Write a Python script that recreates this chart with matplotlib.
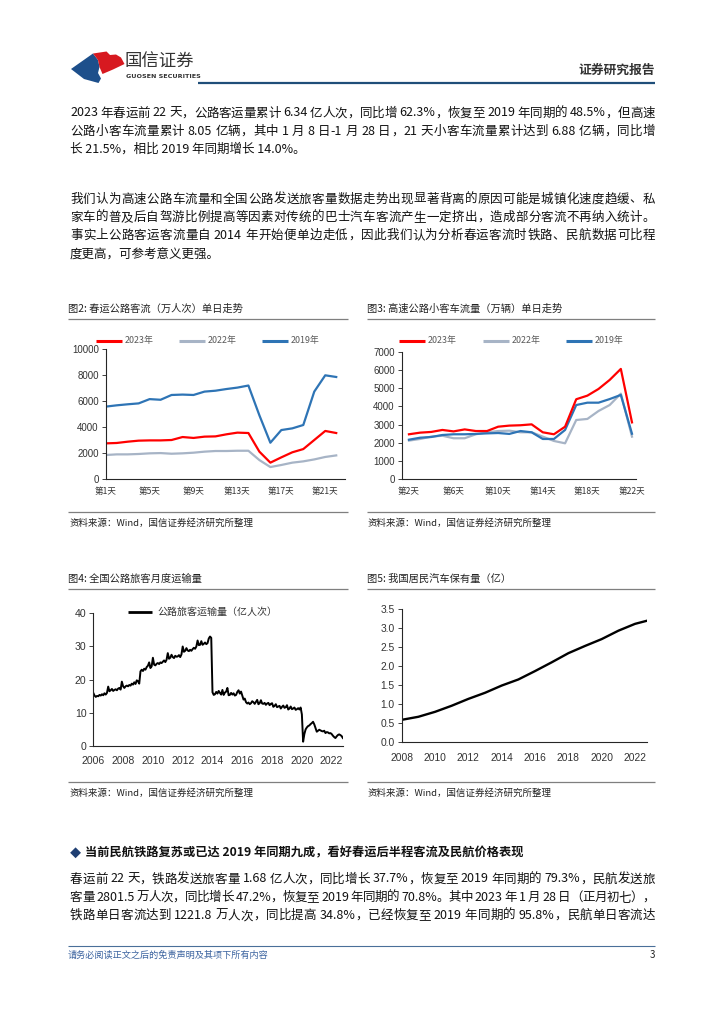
import re
import numpy as np
import matplotlib
matplotlib.use('Agg')
import matplotlib.pyplot as plt
from matplotlib.patches import Polygon

plt.rcParams['font.family'] = ['Noto Sans CJK SC', 'DejaVu Sans']
plt.rcParams['axes.unicode_minus'] = False

W, H = 724, 1024

# -- 图2: 春运公路客流（万人次）单日走势
fig2_days = list(range(1, 23))
fig2_2023 = [2730, 2760, 2860, 2940, 2960, 2960, 2990, 3220, 3150, 3250, 3270, 3430,
             3560, 3530, 2090, 1240, 1650, 2040, 2290, 2990, 3690, 3530]
fig2_2022 = [1830, 1880, 1880, 1910, 1960, 1980, 1930, 1960, 2010, 2090, 2140, 2140,
             2160, 2160, 1440, 900, 1060, 1240, 1340, 1490, 1680, 1800]
fig2_2019 = [5570, 5670, 5750, 5820, 6150, 6100, 6470, 6500, 6470, 6730, 6800, 6930,
             7040, 7200, 4900, 2780, 3760, 3890, 4150, 6730, 7990, 7860]
fig2_ticks = [1, 5, 9, 13, 17, 21]
fig2_labels = ['第1天', '第5天', '第9天', '第13天', '第17天', '第21天']

# -- 图3: 高速公路小客车流量（万辆）单日走势
fig3_days = list(range(2, 23))
fig3_2023 = [2460, 2550, 2590, 2700, 2620, 2730, 2640, 2640, 2880, 2940, 2960, 3010,
             2570, 2460, 2880, 4400, 4600, 4970, 5470, 6080, 3120]
fig3_2022 = [2110, 2200, 2330, 2380, 2240, 2240, 2460, 2570, 2640, 2660, 2570, 2570,
             2330, 2090, 1960, 3250, 3310, 3750, 4080, 4710, 2330]
fig3_2019 = [2160, 2270, 2310, 2420, 2460, 2460, 2480, 2510, 2530, 2480, 2640, 2570,
             2200, 2200, 2700, 4080, 4210, 4210, 4410, 4640, 2490]
fig3_ticks = [2, 6, 10, 14, 18, 22]
fig3_labels = ['第2天', '第6天', '第10天', '第14天', '第18天', '第22天']

# -- 图4: 全国公路旅客月度运输量（亿人次），2006-01 起按月
y2006 = [16.0, 15.2, 14.8, 15.1, 15.0, 15.4, 15.2, 15.6, 15.3, 15.9, 15.5, 16.0]
y2007 = [17.9, 16.5, 16.8, 17.2, 16.6, 16.9, 17.1, 16.8, 17.3, 17.5, 17.0, 19.4]
y2008 = [18.0, 17.5, 18.0, 18.2, 18.0, 18.4, 18.2, 18.8, 18.5, 19.2, 18.7, 19.8]
y2009 = [19.5, 18.8, 22.5, 23.0, 22.6, 23.3, 23.0, 23.8, 24.2, 25.2, 23.5, 24.0]
y2010 = [26.6, 24.5, 24.3, 24.8, 25.0, 24.7, 25.2, 25.0, 25.4, 25.8, 25.3, 26.0]
y2011 = [28.0, 26.3, 26.6, 27.5, 26.8, 26.5, 27.2, 26.9, 27.0, 27.4, 26.8, 27.6]
y2012 = [30.0, 28.4, 28.7, 29.5, 28.8, 28.6, 29.0, 28.7, 29.2, 29.6, 29.3, 30.0]
y2013 = [31.8, 30.4, 30.5, 31.6, 30.5, 30.8, 31.2, 30.7, 31.0, 32.4, 33.0, 32.6]
y2014 = [16.2, 15.4, 15.6, 16.3, 15.8, 16.6, 16.0, 15.5, 16.9, 15.4, 16.1, 16.4]
y2015 = [17.5, 15.3, 15.4, 16.0, 15.5, 15.9, 15.2, 15.4, 16.3, 16.8, 15.8, 16.4]
y2016 = [15.2, 14.0, 14.3, 13.2, 12.8, 13.1, 12.6, 12.9, 13.5, 13.2, 12.7, 13.3]
y2017 = [13.9, 12.6, 12.9, 13.8, 12.8, 12.7, 13.0, 12.4, 12.8, 13.0, 12.3, 12.7]
y2018 = [12.9, 11.8, 12.1, 12.6, 11.7, 11.9, 12.1, 11.3, 11.8, 12.2, 11.5, 11.7]
y2019 = [12.3, 11.0, 11.3, 11.9, 11.1, 11.3, 11.6, 10.9, 11.1, 11.4, 11.0, 11.6]
y2020 = [9.5, 1.3, 3.6, 5.0, 5.6, 6.0, 6.2, 6.6, 6.9, 7.3, 6.5, 5.4]
y2021 = [4.3, 4.6, 4.9, 4.7, 4.5, 4.4, 4.6, 3.9, 4.2, 4.1, 3.8, 3.9]
y2022 = [3.6, 3.1, 2.7, 2.4, 2.9, 3.3, 3.5, 3.3, 3.0, 2.4]
fig4_values = (y2006 + y2007 + y2008 + y2009 + y2010 + y2011 + y2012 + y2013 + y2014
               + y2015 + y2016 + y2017 + y2018 + y2019 + y2020 + y2021 + y2022)
fig4_years = list(range(2006, 2023, 2))

# -- 图5: 我国居民汽车保有量（亿）
fig5_x = [2008, 2009, 2010, 2011, 2012, 2013, 2014, 2015, 2016, 2017, 2018, 2019,
          2020, 2021, 2022, 2022.7]
fig5_values = [0.59, 0.67, 0.80, 0.96, 1.14, 1.30, 1.49, 1.65, 1.87, 2.10, 2.34,
               2.53, 2.71, 2.93, 3.11, 3.19]
fig5_years = list(range(2008, 2023, 2))

# -- text
para1 = ["2023 年春运前 22 天，公路客运量累计 6.34 亿人次，同比增 62.3%，恢复至 2019 年同期的 48.5%，但高速",
         "公路小客车流量累计 8.05 亿辆，其中 1 月 8 日-1 月 28 日，21 天小客车流量累计达到 6.88 亿辆，同比增",
         "长 21.5%，相比 2019 年同期增长 14.0%。"]
para2 = ["我们认为高速公路车流量和全国公路发送旅客量数据走势出现显著背离的原因可能是城镇化速度趋缓、私",
         "家车的普及后自驾游比例提高等因素对传统的巴士汽车客流产生一定挤出，造成部分客流不再纳入统计。",
         "事实上公路客运客流量自 2014 年开始便单边走低，因此我们认为分析春运客流时铁路、民航数据可比程",
         "度更高，可参考意义更强。"]
para3 = ["春运前 22 天，铁路发送旅客量 1.68 亿人次，同比增长 37.7%，恢复至 2019 年同期的 79.3%，民航发送旅",
         "客量 2801.5 万人次，同比增长 47.2%，恢复至 2019 年同期的 70.8%。其中 2023 年 1 月 28 日（正月初七），",
         "铁路单日客流达到 1221.8 万人次，同比提高 34.8%，已经恢复至 2019 年同期的 95.8%，民航单日客流达"]
section = "当前民航铁路复苏或已达 2019 年同期九成，看好春运后半程客流及民航价格表现"
source = "资料来源：Wind，国信证券经济研究所整理"

RED, GRAY, BLUE = '#FF0000', '#A7B4C6', '#2E74B5'

fig = plt.figure(figsize=(W / 100, H / 100), dpi=100)
bg = fig.add_axes([0, 0, 1, 1])
bg.set_xlim(0, W)
bg.set_ylim(H, 0)
bg.axis('off')
renderer = fig.canvas.get_renderer()

_adv = {}


def advance(tok, size):
    # width a token takes in the line, measured between two sentinels
    key = (tok, size)
    if key not in _adv:
        a = bg.text(0, 0, '|' + tok + '|', fontsize=size)
        b = bg.text(0, 0, '||', fontsize=size)
        _adv[key] = a.get_window_extent(renderer).width - b.get_window_extent(renderer).width
        a.remove()
        b.remove()
    return _adv[key]


def body_line(x, y, s, size=9, target=None, color='#111111'):
    if target is None:
        bg.text(x, y, s, fontsize=size, va='center', ha='left', color=color)
        return
    toks = re.findall(r'[!-~]+| |.', s)
    ws = [advance(t, size) for t in toks]
    extra = (target - sum(ws)) / (len(toks) - 1)
    cx = x
    for t, w in zip(toks, ws):
        if t != ' ':
            bg.text(cx, y, t, fontsize=size, va='center', ha='left', color=color)
        cx += w + extra


def paragraph(lines, y0, step=18.3):
    for i, s in enumerate(lines):
        full = i < len(lines) - 1
        body_line(70, y0 + i * step, s, target=585 if full else None)


def hline(x0, x1, y, color='#7F7F7F', lw=0.9):
    bg.plot([x0, x1], [y, y], color=color, lw=lw, solid_capstyle='butt')


def make_axes(left, top, right, bottom):
    ax = fig.add_axes([left / W, 1 - bottom / H, (right - left) / W, (bottom - top) / H])
    ax.patch.set_alpha(0)
    for s in ['top', 'right']:
        ax.spines[s].set_visible(False)
    for s in ['left', 'bottom']:
        ax.spines[s].set_color('#262626')
        ax.spines[s].set_linewidth(0.8)
    ax.tick_params(axis='y', direction='out', length=3, width=0.7, color='#404040',
                   labelsize=7, labelcolor='#333333', pad=2)
    ax.tick_params(axis='x', length=0, labelcolor='#333333')
    ax.tick_params(axis='y', labelfontfamily='Liberation Sans')
    return ax


def chart_frame(x0, x1, title, ty=309):
    bg.text(x0, ty, title, fontsize=7.4, va='center', ha='left', color='#222222')
    hline(x0, x1, ty + 10)
    hline(x0, x1, ty + 203)
    bg.text(x0 + 1, ty + 214, source, fontsize=6.8, va='center', ha='left', color='#222222')


def legend_item(x, y, color, label, lw=2.2):
    bg.plot([x, x + 26], [y, y], color=color, lw=lw, solid_capstyle='butt')
    bg.text(x + 29, y, label, fontsize=6.4, va='center', ha='left', color='#595959')


# -- header with logo
blue_logo = [(71, 69), (93, 53.5), (98, 60), (99.5, 67), (98, 73), (101, 78.5), (98.5, 83), (84, 79)]
red_logo = [(93, 53.5), (106.5, 51.5), (110, 55), (116, 54.5), (121, 57.5), (124.5, 64),
            (113, 69.5), (102.5, 74), (99.5, 67), (98, 60)]
bg.add_patch(Polygon(blue_logo, closed=True, color='#1D4F8B', lw=0))
bg.add_patch(Polygon(red_logo, closed=True, color='#D71920', lw=0))
bg.text(125, 62, '国信证券', fontsize=12.5, va='center', ha='left', color='#333333')
bg.text(125.5, 77, 'GUOSEN SECURITIES', fontsize=4.6, va='center', ha='left',
        color='#333333', fontweight='bold', family='DejaVu Sans')
bg.text(655, 70, '证券研究报告', fontsize=9.2, va='center', ha='right', color='#333333',
        fontweight='bold')
hline(198, 655, 83, color='#1F4E79', lw=1.6)

# -- body text
paragraph(para1, 113)
paragraph(para2, 199)

# -- 图2
chart_frame(68, 348, '图2: 春运公路客流（万人次）单日走势')
legend_item(96, 340.5, RED, '2023年')
legend_item(179, 340.5, GRAY, '2022年')
legend_item(262, 340.5, BLUE, '2019年')
ax2 = make_axes(105.7, 349.3, 345, 478.7)
ax2.plot(fig2_days, fig2_2022, color=GRAY, lw=1.6)
ax2.plot(fig2_days, fig2_2023, color=RED, lw=1.6)
ax2.plot(fig2_days, fig2_2019, color=BLUE, lw=1.6)
ax2.set_xlim(1, 22.8)
ax2.set_ylim(0, 10000)
ax2.set_yticks(range(0, 10001, 2000))
ax2.set_xticks(fig2_ticks, fig2_labels, fontsize=6.2)
ax2.tick_params(axis='x', pad=6)

# -- 图3
chart_frame(367, 655, '图3: 高速公路小客车流量（万辆）单日走势')
legend_item(399, 340.5, RED, '2023年')
legend_item(483, 340.5, GRAY, '2022年')
legend_item(566, 340.5, BLUE, '2019年')
ax3 = make_axes(401.7, 352.3, 636, 478.7)
ax3.plot(fig3_days, fig3_2022, color=GRAY, lw=1.6)
ax3.plot(fig3_days, fig3_2019, color=BLUE, lw=1.6)
ax3.plot(fig3_days, fig3_2023, color=RED, lw=1.6)
ax3.set_xlim(1.35, 22.36)
ax3.set_ylim(0, 7000)
ax3.set_yticks(range(0, 7001, 1000))
ax3.set_xticks(fig3_ticks, fig3_labels, fontsize=6.2)
ax3.tick_params(axis='x', pad=6)

# -- 图4
chart_frame(68, 348, '图4: 全国公路旅客月度运输量', ty=579)
bg.plot([128, 152], [611.7, 611.7], color='black', lw=2.0, solid_capstyle='butt')
bg.text(157, 611.7, '公路旅客运输量（亿人次）', fontsize=7.2, va='center', ha='left', color='#333333')
ax4 = make_axes(93.3, 613.3, 343.3, 746)
fig4_x = 2006 + np.arange(len(fig4_values)) / 12
ax4.plot(fig4_x, fig4_values, color='black', lw=1.4)
ax4.set_xlim(2006, 2022.78)
ax4.set_ylim(0, 40)
ax4.set_yticks(range(0, 41, 10))
ax4.set_xticks(fig4_years)
ax4.tick_params(axis='x', labelsize=7.6, pad=7, labelfontfamily='Liberation Sans')
ax4.tick_params(axis='y', labelsize=7.6)

# -- 图5
chart_frame(367, 655, '图5: 我国居民汽车保有量（亿）', ty=579)
ax5 = make_axes(401.7, 609, 646.7, 742.3)
ax5.plot(fig5_x, fig5_values, color='black', lw=1.7)
ax5.set_xlim(2008, 2022.7)
ax5.set_ylim(0, 3.5)
ax5.set_yticks(np.arange(0, 3.51, 0.5))
ax5.set_yticklabels([f'{v:.1f}' for v in np.arange(0, 3.51, 0.5)])
ax5.set_xticks(fig5_years)
ax5.tick_params(axis='x', labelsize=7.4, pad=8, labelfontfamily='Liberation Sans')
ax5.tick_params(axis='y', labelsize=7.4)

# -- section and last paragraph
bg.text(70, 853, '◆', fontsize=8, va='center', ha='left', color='#1F3F73')
bg.text(85, 853, section, fontsize=8.8, va='center', ha='left', color='#111111',
        fontweight='bold')
paragraph(para3 + [''], 879)

# -- footer
hline(68, 655, 946, color='#4A6F99', lw=0.8)
bg.text(68, 955, '请务必阅读正文之后的免责声明及其项下所有内容', fontsize=6.6, va='center',
        ha='left', color='#3C64A0')
bg.text(655, 955, '3', fontsize=7, va='center', ha='right', color='#222222')

fig.savefig('out.png', dpi=100)
